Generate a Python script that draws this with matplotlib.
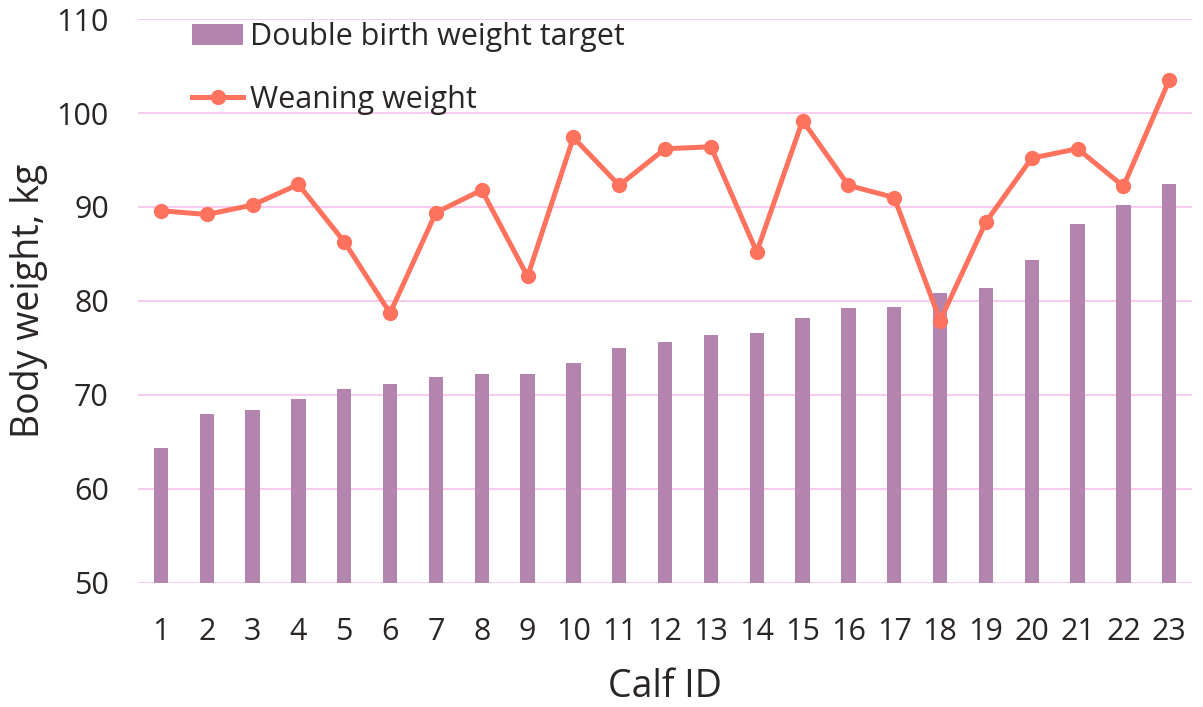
import matplotlib
matplotlib.use("Agg")
import matplotlib.pyplot as plt
import numpy as np

calf_ids = [str(i) for i in range(1, 24)]
double_birth_weight_target = [64.3, 68.0, 68.4, 69.6, 70.6, 71.2, 71.9, 72.2, 72.2, 73.4, 75.0,
                              75.6, 76.4, 76.6, 78.2, 79.2, 79.4, 80.8, 81.4, 84.4, 88.2, 90.2, 92.4]
weaning_weight = [89.6, 89.2, 90.2, 92.4, 86.3, 78.7, 89.4, 91.8, 82.6, 97.4, 92.3,
                  96.2, 96.4, 85.2, 99.2, 92.3, 91.0, 77.9, 88.4, 95.2, 96.2, 92.2, 103.5]
y_ticks = [50, 60, 70, 80, 90, 100, 110]

plt.rcParams['font.family'] = ['Open Sans', 'DejaVu Sans']
text_color = '#2A2624'
bar_color = '#B384AE'
line_color = '#FF735E'
grid_color = '#F8CCEE'

fig = plt.figure(figsize=(12.03, 7.07), dpi=100)
ax = fig.add_axes([0.1147, 0.1758, 0.991 - 0.1147, 0.973 - 0.1758])

x = np.arange(len(calf_ids))
bars = ax.bar(x, double_birth_weight_target, width=0.31, color=bar_color, zorder=2,
              label='Double birth weight target')
line, = ax.plot(x, weaning_weight, color=line_color, linewidth=3.6, marker='o',
                markersize=10, zorder=3, label='Weaning weight')

ax.set_xlim(-0.5, len(calf_ids) - 0.5)
ax.set_ylim(50, 110)
ax.set_yticks(y_ticks)
ax.set_xticks(x)
ax.set_xticklabels(calf_ids)
ax.yaxis.grid(True, color=grid_color, linewidth=1.5, zorder=0)
ax.set_axisbelow(True)
for s in ax.spines.values():
    s.set_visible(False)
ax.tick_params(axis='both', length=0, labelsize=22, colors=text_color)
ax.tick_params(axis='x', pad=25)
ax.tick_params(axis='y', pad=21)

ax.set_xlabel('Calf ID', fontsize=27, color=text_color, labelpad=15)
ax.set_ylabel('Body weight, kg', fontsize=27, color=text_color, labelpad=6)

leg = ax.legend(handles=[bars, line], loc='upper left',
                bbox_to_anchor=(192 / 1203, 1 - 22 / 707), bbox_transform=fig.transFigure,
                frameon=False, fontsize=22, handlelength=1.67, handletextpad=0.22,
                labelspacing=1.08, borderpad=0, borderaxespad=0)
for t in leg.get_texts():
    t.set_color(text_color)

fig.savefig('out.png', dpi=100, facecolor='white')
